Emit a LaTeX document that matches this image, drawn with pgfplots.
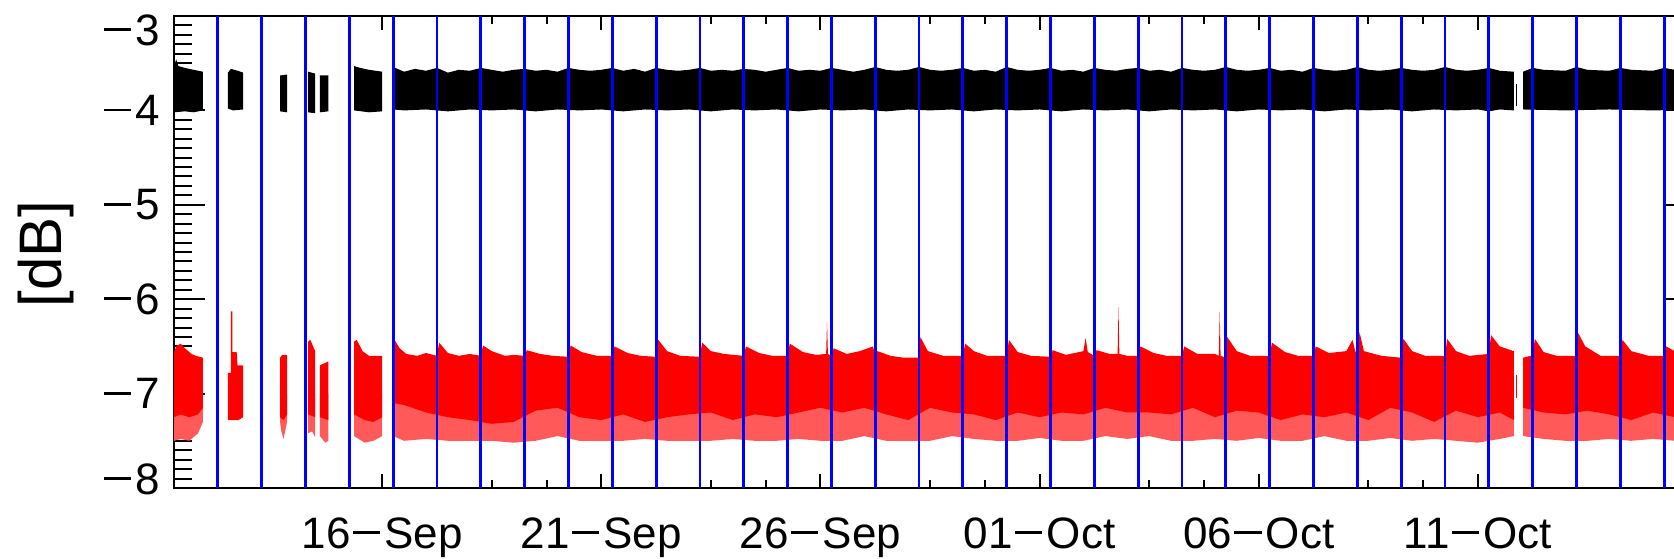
\documentclass[border=0pt]{standalone}
\usepackage{fontspec}
\setmainfont{Liberation Sans}
\usepackage{pgfplots}
\pgfplotsset{compat=1.18}
\newcommand\dsh{\kern0.05em\rule[0.32em]{0.62em}{0.065em}\kern0.1em}
\newcommand\yl[2]{\vphantom{0}\smash{\raisebox{#1}{\dsh#2}}}
\pgfplotsset{
  common/.style={
    scale only axis, width=380.75pt, height=118pt,
    at={(0pt,0pt)}, anchor=south west,
    xmin=11.25, xmax=46, ymin=-8, ymax=-3,
    tick align=inside,
    axis line style={line width=0.55pt},
    every tick/.style={black, line width=0.5pt},
    tick label style={font=\fontsize{11}{13}\selectfont},
  }
}
\begin{document}
\begin{tikzpicture}
% y ticks (drawn first, under the data)
\begin{axis}[common,
  xtick=\empty,
  ytick={-8,-7,-6,-5,-4,-3},
  yticklabels={{\yl{2.2pt}{8}},{\dsh7},{\dsh6},{\dsh5},{\dsh4},{\yl{-3.5pt}{3}}},
  minor y tick num=9,
  major tick length=7.75pt, minor tick length=4.5pt,
  ylabel={[dB]},
  every axis y label/.style={at={(axis description cs:-0.084,0.496)}, anchor=center, rotate=90, font=\fontsize{15}{17}\selectfont},
]
\end{axis}
% x ticks and data
\begin{axis}[common,
  ytick=\empty,
  xtick={16,21,26,31,36,41},
  xticklabels={16\dsh Sep,21\dsh Sep,26\dsh Sep,01\dsh Oct,06\dsh Oct,11\dsh Oct},
  minor x tick num=3,
  major tick length=3.5pt, minor tick length=2pt,
  xticklabel style={yshift=-3.8pt},
]
% ---- red speckle fringe ----
\addplot[draw=none, fill=red!65] coordinates {(11.25,-7.0)(11.91,-7.0)(11.91,-7.3)(11.8,-7.42)(11.6,-7.5)(11.4,-7.48)(11.25,-7.5)} --cycle;
\addplot[draw=none, fill=red!65] coordinates {(13.67,-7.0)(13.83,-7.0)(13.83,-7.3)(13.75,-7.48)(13.7,-7.4)(13.67,-7.3)} --cycle;
\addplot[draw=none, fill=red!65] coordinates {(14.31,-7.0)(14.47,-7.0)(14.47,-7.46)(14.4,-7.4)(14.31,-7.42)} --cycle;
\addplot[draw=none, fill=red!65] coordinates {(14.58,-7.0)(14.77,-7.0)(14.77,-7.5)(14.7,-7.52)(14.58,-7.45)} --cycle;
\addplot[draw=none, fill=red!65] coordinates {(15.36,-7.0)(16.0,-7.0)(16.0,-7.45)(15.8,-7.5)(15.6,-7.52)(15.36,-7.45)} --cycle;
\addplot[draw=none, fill=red!65] coordinates {(16.25,-7.0)(41.82,-7.0)(41.82,-7.45)(41.5,-7.48)(41,-7.52)(40.5,-7.5)(40,-7.48)(39.5,-7.5)(39,-7.47)(38.5,-7.5)(38,-7.5)(37.5,-7.45)(37,-7.5)(36.5,-7.5)(36,-7.47)(35.5,-7.5)(35,-7.48)(34.5,-7.5)(34,-7.5)(33.5,-7.45)(33,-7.48)(32.5,-7.45)(32,-7.5)(31.5,-7.5)(31,-7.47)(30.5,-7.5)(30,-7.5)(29.5,-7.48)(29,-7.45)(28.5,-7.5)(28,-7.5)(27.5,-7.5)(27,-7.45)(26.5,-7.5)(26,-7.5)(25.5,-7.48)(25,-7.5)(24.5,-7.5)(24,-7.48)(23.5,-7.5)(23,-7.5)(22.5,-7.5)(22,-7.48)(21.5,-7.5)(21,-7.5)(20.5,-7.5)(20,-7.45)(19.5,-7.5)(19,-7.52)(18.5,-7.5)(18,-7.5)(17.5,-7.5)(17,-7.48)(16.5,-7.5)(16.25,-7.45)} --cycle;
\addplot[draw=none, fill=red!65] coordinates {(42.03,-7.0)(46,-7.0)(46,-7.48)(45.5,-7.5)(45,-7.48)(44.5,-7.5)(44,-7.48)(43.5,-7.5)(43,-7.5)(42.5,-7.48)(42.03,-7.45)} --cycle;
% ---- red solid band ----
\addplot[draw=none, fill=red] coordinates {(11.25,-6.56)(11.3,-6.50)(11.4,-6.47)(11.5,-6.52)(11.65,-6.58)(11.75,-6.60)(11.91,-6.62)(11.91,-7.15)(11.8,-7.22)(11.6,-7.25)(11.4,-7.22)(11.25,-7.25)} --cycle;
\addplot[draw=none, fill=red] coordinates {(12.48,-6.78)(12.55,-6.78)(12.55,-6.13)(12.58,-6.13)(12.58,-6.56)(12.68,-6.56)(12.70,-6.70)(12.83,-6.70)(12.83,-7.25)(12.72,-7.28)(12.48,-7.28)} --cycle;
\addplot[draw=none, fill=red] coordinates {(13.67,-6.62)(13.72,-6.59)(13.83,-6.59)(13.83,-7.22)(13.75,-7.28)(13.67,-7.25)} --cycle;
\addplot[draw=none, fill=red] coordinates {(14.31,-6.45)(14.36,-6.43)(14.47,-6.55)(14.47,-7.25)(14.31,-7.22)} --cycle;
\addplot[draw=none, fill=red] coordinates {(14.58,-6.70)(14.77,-6.66)(14.77,-7.28)(14.58,-7.25)} --cycle;
\addplot[draw=none, fill=red] coordinates {(15.36,-6.45)(15.42,-6.43)(15.55,-6.55)(15.7,-6.60)(16.0,-6.60)(16.0,-7.25)(15.8,-7.3)(15.6,-7.28)(15.36,-7.22)} --cycle;
\addplot[draw=none, fill=red] coordinates {(16.25,-6.60)(16.28,-6.43)(16.40,-6.52)(16.55,-6.58)(16.8,-6.60)(17.0,-6.57)(17.25,-6.60)(17.3,-6.46)(17.5,-6.57)(17.75,-6.60)(18.0,-6.58)(18.25,-6.60)(18.3,-6.49)(18.5,-6.55)(18.8,-6.60)(19.0,-6.59)(19.25,-6.60)(19.3,-6.54)(19.6,-6.58)(19.9,-6.60)(20.25,-6.61)(20.3,-6.49)(20.55,-6.56)(20.9,-6.60)(21.25,-6.60)(21.3,-6.50)(21.6,-6.57)(21.9,-6.60)(22.25,-6.61)(22.3,-6.43)(22.5,-6.55)(22.8,-6.60)(23.25,-6.61)(23.3,-6.46)(23.5,-6.55)(23.8,-6.58)(24.25,-6.60)(24.3,-6.50)(24.6,-6.57)(24.9,-6.60)(25.25,-6.60)(25.3,-6.47)(25.6,-6.56)(25.9,-6.59)(26.13,-6.58)(26.15,-6.24)(26.17,-6.58)(26.25,-6.60)(26.3,-6.52)(26.6,-6.58)(26.9,-6.55)(27.2,-6.50)(27.25,-6.60)(27.3,-6.55)(27.6,-6.60)(27.9,-6.62)(28.25,-6.62)(28.28,-6.40)(28.45,-6.55)(28.8,-6.60)(29.25,-6.60)(29.3,-6.47)(29.5,-6.55)(29.8,-6.60)(30.25,-6.60)(30.3,-6.43)(30.5,-6.56)(30.8,-6.60)(31.25,-6.61)(31.3,-6.54)(31.6,-6.59)(32.0,-6.55)(32.05,-6.41)(32.1,-6.56)(32.25,-6.60)(32.3,-6.54)(32.6,-6.58)(32.78,-6.58)(32.8,-6.08)(32.82,-6.58)(33.0,-6.60)(33.25,-6.60)(33.3,-6.50)(33.6,-6.57)(33.9,-6.60)(34.25,-6.60)(34.3,-6.50)(34.6,-6.58)(35.0,-6.58)(35.09,-6.60)(35.11,-6.13)(35.13,-6.60)(35.25,-6.62)(35.28,-6.40)(35.5,-6.55)(35.8,-6.60)(36.25,-6.60)(36.3,-6.46)(36.6,-6.56)(36.9,-6.60)(37.25,-6.60)(37.3,-6.50)(37.6,-6.57)(38.0,-6.55)(38.14,-6.43)(38.2,-6.55)(38.25,-6.58)(38.3,-6.35)(38.4,-6.55)(38.8,-6.60)(39.25,-6.62)(39.3,-6.42)(39.5,-6.55)(39.8,-6.60)(40.25,-6.60)(40.3,-6.42)(40.5,-6.55)(40.8,-6.60)(41.25,-6.58)(41.3,-6.38)(41.5,-6.50)(41.82,-6.55)(41.82,-7.28)(41.5,-7.20)(41.0,-7.25)(40.5,-7.18)(40.0,-7.30)(39.5,-7.20)(39.0,-7.15)(38.5,-7.28)(38.0,-7.20)(37.5,-7.25)(37.0,-7.22)(36.5,-7.28)(36.0,-7.20)(35.5,-7.18)(35.0,-7.25)(34.5,-7.15)(34.0,-7.22)(33.5,-7.20)(33.0,-7.20)(32.5,-7.15)(32.0,-7.22)(31.5,-7.20)(31.0,-7.25)(30.5,-7.20)(30.0,-7.28)(29.5,-7.22)(29.0,-7.20)(28.5,-7.15)(28.0,-7.28)(27.5,-7.22)(27.0,-7.15)(26.5,-7.20)(26.0,-7.15)(25.5,-7.20)(25.0,-7.25)(24.5,-7.22)(24.0,-7.28)(23.5,-7.20)(23.0,-7.22)(22.5,-7.25)(22.0,-7.30)(21.5,-7.22)(21.0,-7.28)(20.5,-7.25)(20.0,-7.15)(19.5,-7.18)(19.0,-7.30)(18.5,-7.32)(18.0,-7.28)(17.5,-7.25)(17.0,-7.20)(16.5,-7.12)(16.25,-7.10)} --cycle;
\addplot[draw=none, fill=red] coordinates {(41.86,-6.8)(41.89,-6.8)(41.89,-7.05)(41.86,-7.05)} --cycle;
\addplot[draw=none, fill=red] coordinates {(42.03,-6.62)(42.2,-6.60)(42.25,-6.60)(42.3,-6.42)(42.5,-6.56)(42.8,-6.60)(43.25,-6.60)(43.28,-6.35)(43.45,-6.50)(43.8,-6.60)(44.25,-6.60)(44.3,-6.43)(44.5,-6.55)(44.9,-6.60)(45.25,-6.60)(45.3,-6.50)(45.6,-6.58)(46.0,-6.60)(46,-7.2)(45.5,-7.25)(45,-7.2)(44.5,-7.28)(44,-7.22)(43.5,-7.18)(43,-7.22)(42.5,-7.2)(42.03,-7.15)} --cycle;
% ---- black band ----
\addplot[draw=none, fill=black] coordinates {(11.25,-3.53)(11.3,-3.46)(11.35,-3.53)(11.5,-3.55)(11.7,-3.57)(11.91,-3.59)(11.91,-4.0)(11.7,-4.02)(11.5,-4.01)(11.25,-4.02)} --cycle;
\addplot[draw=none, fill=black] coordinates {(12.48,-3.60)(12.55,-3.56)(12.7,-3.58)(12.83,-3.60)(12.83,-3.99)(12.6,-4.0)(12.48,-3.98)} --cycle;
\addplot[draw=none, fill=black] coordinates {(13.67,-3.63)(13.83,-3.62)(13.83,-4.02)(13.67,-4.01)} --cycle;
\addplot[draw=none, fill=black] coordinates {(14.31,-3.59)(14.47,-3.61)(14.47,-4.03)(14.31,-4.02)} --cycle;
\addplot[draw=none, fill=black] coordinates {(14.58,-3.63)(14.77,-3.63)(14.77,-4.01)(14.58,-4.02)} --cycle;
\addplot[draw=none, fill=black] coordinates {(15.36,-3.53)(15.5,-3.55)(15.7,-3.57)(16.0,-3.59)(16.0,-4.01)(15.7,-4.02)(15.36,-4.0)} --cycle;
\addplot[draw=none, fill=black] coordinates {(16.25,-3.54)(16.5,-3.59)(16.75,-3.56)(17.0,-3.58)(17.25,-3.55)(17.5,-3.60)(17.75,-3.57)(18.0,-3.58)(18.25,-3.55)(18.5,-3.57)(18.75,-3.59)(19.0,-3.57)(19.25,-3.56)(19.5,-3.58)(19.75,-3.57)(20.0,-3.59)(20.25,-3.55)(20.5,-3.57)(20.75,-3.58)(21.0,-3.57)(21.25,-3.55)(21.5,-3.58)(21.75,-3.56)(22.0,-3.59)(22.25,-3.55)(22.5,-3.57)(22.75,-3.58)(23.0,-3.57)(23.25,-3.55)(23.5,-3.58)(23.75,-3.57)(24.0,-3.58)(24.25,-3.56)(24.5,-3.57)(24.75,-3.59)(25.0,-3.57)(25.25,-3.55)(25.5,-3.58)(25.75,-3.57)(26.0,-3.58)(26.25,-3.55)(26.5,-3.57)(26.75,-3.59)(27.0,-3.57)(27.25,-3.54)(27.5,-3.57)(27.75,-3.58)(28.0,-3.57)(28.25,-3.54)(28.5,-3.57)(28.75,-3.58)(29.0,-3.57)(29.25,-3.55)(29.5,-3.58)(29.75,-3.57)(30.0,-3.59)(30.25,-3.54)(30.5,-3.57)(30.75,-3.58)(31.0,-3.57)(31.25,-3.55)(31.5,-3.58)(31.75,-3.57)(32.0,-3.59)(32.25,-3.55)(32.5,-3.57)(32.75,-3.58)(33.0,-3.56)(33.25,-3.55)(33.5,-3.58)(33.75,-3.57)(34.0,-3.59)(34.25,-3.55)(34.5,-3.57)(34.75,-3.58)(35.0,-3.57)(35.25,-3.54)(35.5,-3.57)(35.75,-3.58)(36.0,-3.57)(36.25,-3.55)(36.5,-3.58)(36.75,-3.57)(37.0,-3.59)(37.25,-3.55)(37.5,-3.57)(37.75,-3.58)(38.0,-3.57)(38.25,-3.54)(38.5,-3.57)(38.75,-3.58)(39.0,-3.57)(39.25,-3.55)(39.5,-3.57)(39.75,-3.58)(40.0,-3.57)(40.25,-3.54)(40.5,-3.57)(40.75,-3.58)(41.0,-3.57)(41.25,-3.55)(41.5,-3.58)(41.82,-3.59)(41.82,-4.0)(41.5,-3.99)(41.25,-4.01)(41.0,-3.99)(40.5,-4.0)(40.0,-3.99)(39.5,-4.01)(39.0,-3.99)(38.5,-4.0)(38.0,-3.99)(37.5,-4.01)(37.0,-3.99)(36.5,-4.0)(36.0,-3.99)(35.5,-4.01)(35.0,-3.99)(34.5,-4.0)(34.0,-3.99)(33.5,-4.01)(33.0,-3.99)(32.5,-4.0)(32.0,-3.99)(31.5,-4.01)(31.0,-3.99)(30.5,-4.0)(30.0,-3.99)(29.5,-4.01)(29.0,-3.99)(28.5,-4.0)(28.0,-3.99)(27.5,-4.01)(27.0,-3.99)(26.5,-4.0)(26.0,-3.99)(25.5,-4.01)(25.0,-3.99)(24.5,-4.0)(24.0,-3.99)(23.5,-4.01)(23.0,-3.99)(22.5,-4.0)(22.0,-3.99)(21.5,-4.01)(21.0,-3.99)(20.5,-4.0)(20.0,-3.99)(19.5,-4.01)(19.0,-3.99)(18.5,-4.0)(18.0,-3.99)(17.5,-4.01)(17.0,-3.99)(16.5,-4.0)(16.25,-3.99)} --cycle;
\addplot[draw=none, fill=black] coordinates {(41.86,-3.72)(41.89,-3.72)(41.89,-3.95)(41.86,-3.95)} --cycle;
\addplot[draw=none, fill=black] coordinates {(42.03,-3.59)(42.25,-3.55)(42.5,-3.57)(43.0,-3.58)(43.25,-3.54)(43.5,-3.57)(44.0,-3.58)(44.25,-3.55)(44.5,-3.57)(45.0,-3.58)(45.25,-3.55)(45.5,-3.57)(46.0,-3.58)(46.0,-3.99)(45.0,-4.0)(44.0,-3.99)(43.0,-4.0)(42.03,-3.99)} --cycle;
% ---- daily blue lines ----
\addplot[blue, line width=0.7pt] coordinates {(12.25,-9)(12.25,-2)(13.25,-2)(13.25,-9)(14.25,-9)(14.25,-2)(15.25,-2)(15.25,-9)(16.25,-9)(16.25,-2)(17.25,-2)(17.25,-9)(18.25,-9)(18.25,-2)(19.25,-2)(19.25,-9)(20.25,-9)(20.25,-2)(21.25,-2)(21.25,-9)(22.25,-9)(22.25,-2)(23.25,-2)(23.25,-9)(24.25,-9)(24.25,-2)(25.25,-2)(25.25,-9)(26.25,-9)(26.25,-2)(27.25,-2)(27.25,-9)(28.25,-9)(28.25,-2)(29.25,-2)(29.25,-9)(30.25,-9)(30.25,-2)(31.25,-2)(31.25,-9)(32.25,-9)(32.25,-2)(33.25,-2)(33.25,-9)(34.25,-9)(34.25,-2)(35.25,-2)(35.25,-9)(36.25,-9)(36.25,-2)(37.25,-2)(37.25,-9)(38.25,-9)(38.25,-2)(39.25,-2)(39.25,-9)(40.25,-9)(40.25,-2)(41.25,-2)(41.25,-9)(42.25,-9)(42.25,-2)(43.25,-2)(43.25,-9)(44.25,-9)(44.25,-2)(45.25,-2)(45.25,-9)};
\end{axis}
\pgfresetboundingbox
\path[use as bounding box] (-43.5pt,-17.5pt) rectangle (375pt,122pt);
\end{tikzpicture}
\end{document}
